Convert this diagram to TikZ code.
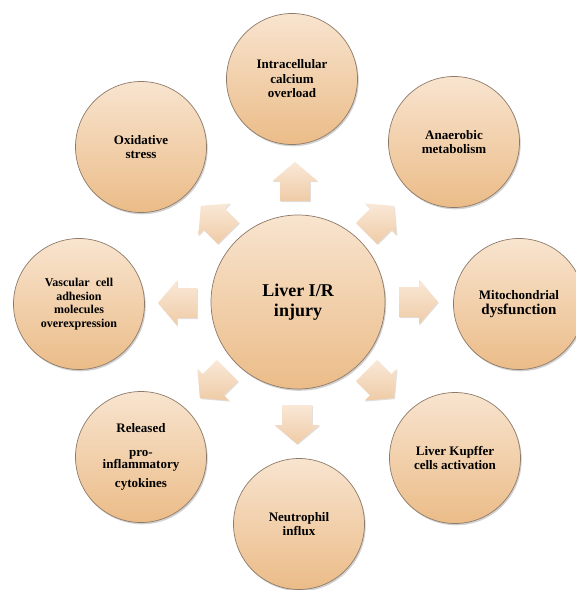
\documentclass[tikz,border=0pt]{standalone}
\usepackage{fontspec}
\setmainfont{Liberation Serif}
\usetikzlibrary{shadows}
\definecolor{circtop}{HTML}{F8E4CF}
\definecolor{circbot}{HTML}{EBBC88}
\definecolor{circline}{HTML}{8E7A68}
\definecolor{arrtop}{HTML}{F9E8D7}
\definecolor{arrbot}{HTML}{EFCBA6}
\tikzset{
  bubble/.style={circle, draw=circline, line width=0.7pt, top color=circtop, bottom color=circbot,
    inner sep=0pt, minimum size=131pt, align=center, font=\fontsize{13}{14.5}\selectfont\bfseries,
    drop shadow={shadow xshift=1.2pt, shadow yshift=-1.8pt, opacity=0.18, fill=black}},
  hub/.style={bubble, minimum size=174pt, font=\fontsize{18}{20}\selectfont\bfseries},
  blockarrow/.pic={
    \path[top color=arrtop, bottom color=arrbot,
      drop shadow={shadow xshift=0.8pt, shadow yshift=-1pt, opacity=0.12, fill=black}]
      (-19,-15) -- (1,-15) -- (1,-22.5) -- (20,0) -- (1,22.5) -- (1,15) -- (-19,15) -- cycle;
    \coordinate (-tip) at (20,0);
  }
}
\begin{document}
\begin{tikzpicture}[x=1pt,y=-1pt]
\useasboundingbox (0,0) rectangle (576,590);
\fill[white] (0,0) rectangle (576,590);
% outer bubbles
\node[bubble] (calc) at (292,79) {Intracellular\\calcium\\overload};
\node[bubble] (anae) at (454,142) {Anaerobic\\metabolism};
\node[bubble] (mito) at (519,304) {Mitochondrial\\{\fontsize{15}{16}\selectfont dysfunction}};
\node[bubble] (kupf) at (455,458) {Liver Kupffer\\cells activation};
\node[bubble] (neut) at (299,524) {Neutrophil\\influx};
\node[bubble] (cyto) at (141,457) {Released\\[10pt]pro-\\[-3pt]inflammatory\\[5pt]cytokines};
\node[bubble, font=\fontsize{12}{13.5}\selectfont\bfseries] (vasc) at (79,304) {Vascular\ \ cell\\adhesion\\molecules\\overexpression};
\node[bubble] (oxid) at (141,147) {Oxidative\\stress};
% hub
\node[hub] (hub) at (298,302) {Liver I/R\\injury};
% arrows
\pic[rotate=90]   (aN)  at (295,182) {blockarrow};
\pic[rotate=45]   (aNE) at (380,220) {blockarrow};
\pic[rotate=0]    (aE)  at (418,302) {blockarrow};
\pic[rotate=-45]  (aSE) at (380,384) {blockarrow};
\pic[rotate=-90]  (aS)  at (297,424) {blockarrow};
\pic[rotate=-135] (aSW) at (214,384) {blockarrow};
\pic[rotate=180]  (aW)  at (178,303) {blockarrow};
\pic[rotate=135]  (aNW) at (215,220) {blockarrow};
\end{tikzpicture}
\end{document}
